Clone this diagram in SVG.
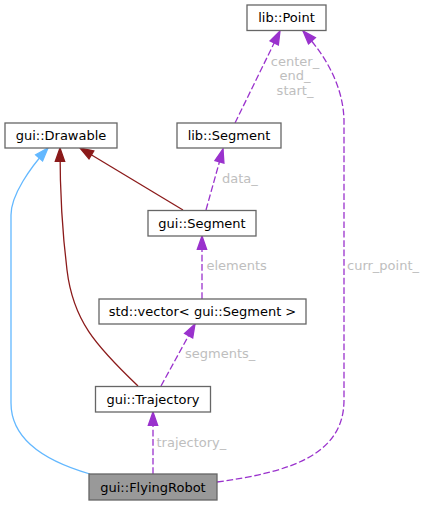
<svg xmlns="http://www.w3.org/2000/svg" width="427" height="505" viewBox="0 0 427 505">
<style>
  .node rect { fill: #ffffff; stroke: #666666; stroke-width: 1.3; }
  .node.hl rect { fill: #999999; }
  .node text { font-family: "DejaVu Sans", sans-serif; font-size: 13px; fill: #000000; text-anchor: middle; }
  .edge { fill: none; stroke-width: 1.3; }
  .pub { stroke: #63b8ff; }
  .prot { stroke: #8b1a1a; }
  .use { stroke: #9a32cd; stroke-dasharray: 6.7,2.7; }
  .lbl { font-family: "DejaVu Sans", sans-serif; font-size: 13px; fill: #bebebe; }
</style>
<defs>
  <marker id="aPub" markerUnits="userSpaceOnUse" viewBox="-1 -1 16 12" refX="13.3" refY="5" markerWidth="16" markerHeight="12" orient="auto" overflow="visible">
    <path d="M0,0.33 L13.3,5 L0,9.67 z" fill="#63b8ff" stroke="#63b8ff" stroke-width="1.3"/>
  </marker>
  <marker id="aProt" markerUnits="userSpaceOnUse" viewBox="-1 -1 16 12" refX="13.3" refY="5" markerWidth="16" markerHeight="12" orient="auto" overflow="visible">
    <path d="M0,0.33 L13.3,5 L0,9.67 z" fill="#8b1a1a" stroke="#8b1a1a" stroke-width="1.3"/>
  </marker>
  <marker id="aUse" markerUnits="userSpaceOnUse" viewBox="-1 -1 16 12" refX="13.3" refY="5" markerWidth="16" markerHeight="12" orient="auto" overflow="visible">
    <path d="M0,0.33 L13.3,5 L0,9.67 z" fill="#9a32cd" stroke="#9a32cd" stroke-width="1.3"/>
  </marker>
</defs>
<rect x="0" y="0" width="427" height="505" fill="#ffffff"/>
<g id="edges">
  <path class="edge pub" d="M90,474 C45,461 11,440 11,403 L11,215 C11,195 30,168 48,148" marker-end="url(#aPub)"/>
  <path class="edge prot" d="M138,386 C95,345 73,320 67,270 C62,230 60,190 60,148" marker-end="url(#aProt)"/>
  <path class="edge prot" d="M183,210 L80,148" marker-end="url(#aProt)"/>
  <path class="edge use" d="M206,210 L223,149" marker-end="url(#aUse)"/>
  <path class="edge use" d="M235,123 L280,31" marker-end="url(#aUse)"/>
  <path class="edge use" d="M202,299 L202,236" marker-end="url(#aUse)"/>
  <path class="edge use" d="M161,386 L195,324" marker-end="url(#aUse)"/>
  <path class="edge use" d="M153,474 L153,412" marker-end="url(#aUse)"/>
  <path class="edge use" d="M217,482 C290,472 344,455 344,400 L344,120 C343,85 325,55 303,31" marker-end="url(#aUse)"/>
  <text class="lbl" x="295" y="65.5" text-anchor="middle">center_</text>
  <text class="lbl" x="295" y="80" text-anchor="middle">end_</text>
  <text class="lbl" x="295" y="94.5" text-anchor="middle">start_</text>
  <text class="lbl" x="222" y="183">data_</text>
  <text class="lbl" x="206.5" y="270">elements</text>
  <text class="lbl" x="185" y="358">segments_</text>
  <text class="lbl" x="156.5" y="447">trajectory_</text>
  <text class="lbl" x="347" y="270">curr_point_</text>
</g>
<g id="node-lib-Point" class="node">
  <rect x="247" y="5" width="79" height="25.5"/>
  <text x="286.5" y="22">lib::Point</text>
</g>
<g id="node-gui-Drawable" class="node">
  <rect x="5" y="123" width="112" height="25"/>
  <text x="61" y="140">gui::Drawable</text>
</g>
<g id="node-lib-Segment" class="node">
  <rect x="177" y="123" width="104" height="25"/>
  <text x="229" y="140">lib::Segment</text>
</g>
<g id="node-gui-Segment" class="node">
  <rect x="148" y="210.5" width="108" height="25.5"/>
  <text x="202" y="227.5">gui::Segment</text>
</g>
<g id="node-std-vector" class="node">
  <rect x="99" y="299" width="207" height="25"/>
  <text x="202.5" y="316">std::vector&lt; gui::Segment &gt;</text>
</g>
<g id="node-gui-Trajectory" class="node">
  <rect x="95.5" y="386.5" width="115" height="25.5"/>
  <text x="153" y="404">gui::Trajectory</text>
</g>
<g id="node-gui-FlyingRobot" class="node hl">
  <rect x="89" y="474" width="128" height="26"/>
  <text x="153" y="491.5">gui::FlyingRobot</text>
</g>
</svg>
